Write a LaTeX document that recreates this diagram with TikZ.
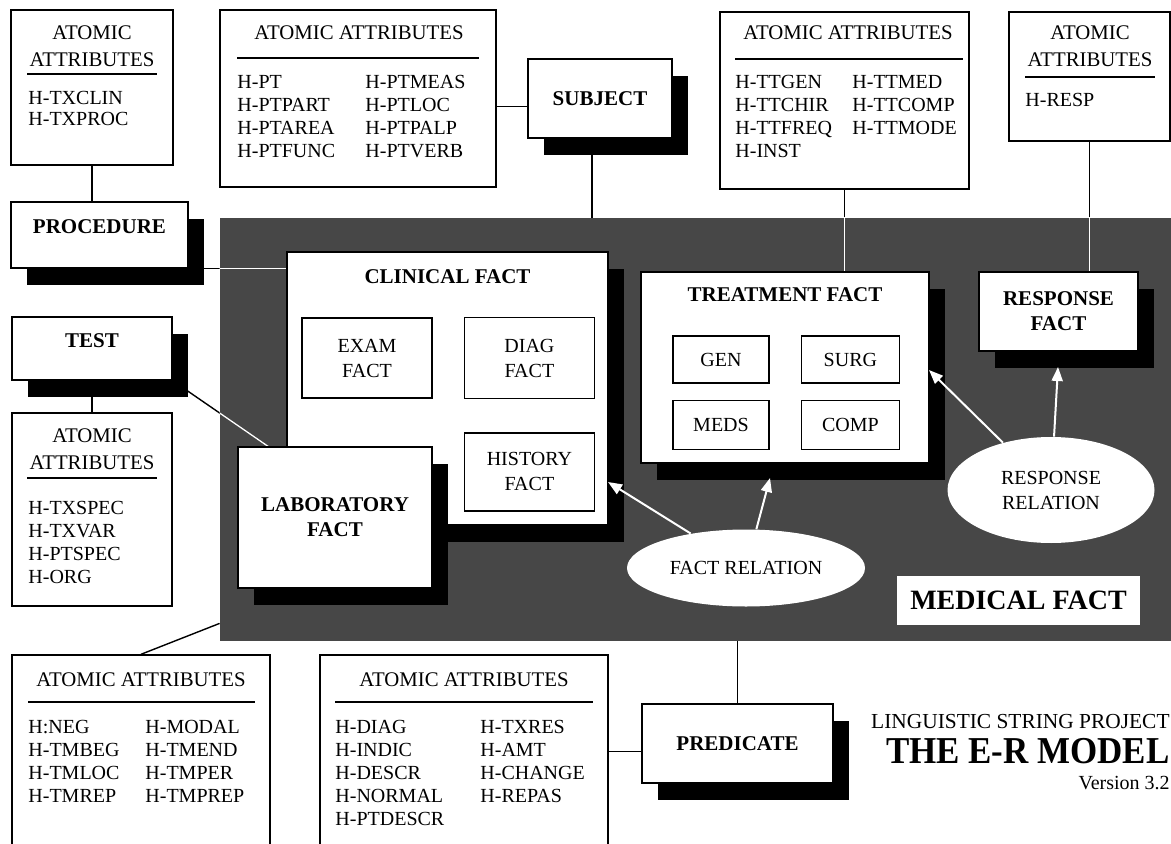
\documentclass[tikz,border=0pt]{standalone}
\usepackage{fontspec}
\setmainfont{Liberation Serif}
\usepackage{graphicx}
\usetikzlibrary{positioning, shapes.geometric, shadows, arrows.meta, calc}

\pgfdeclarelayer{bg}
\pgfdeclarelayer{links}
\pgfsetlayers{bg,links,main}

\tikzset{
  region/.style={fill=black!72, inner sep=0pt},
  attrbox/.style={draw, fill=white, line width=0.7pt, inner sep=0pt},
  attrtitle/.style={inner sep=0pt, align=center, font=\fontsize{10.4}{13.5}\selectfont},
  attrname/.style={anchor=west, inner sep=0pt, text height=6.6pt, text depth=0pt},
  entity/.style={draw, fill=white, line width=0.7pt, inner sep=0pt, align=center,
    font=\bfseries\fontsize{10.5}{12.5}\selectfont,
    drop shadow={shadow xshift=8pt, shadow yshift=-8.5pt, fill=black, opacity=1}},
  entitytitle/.style={inner sep=0pt, text height=6.9pt, text depth=0pt,
    font=\bfseries\fontsize{10.5}{12.5}\selectfont},
  subfact/.style={draw, fill=white, line width=0.7pt, inner sep=0pt, align=center},
  relation/.style={ellipse, fill=white, inner sep=0pt, align=center},
  medlabel/.style={fill=white, inner sep=0pt, font=\bfseries\fontsize{14}{16}\selectfont},
  link/.style={line width=0.7pt},
  underline/.style={line width=0.9pt},
  relarrow/.style={white, line width=1pt, -{Triangle[length=7pt, width=5.5pt]}},
}

% connectors that run into the medical fact region
\newcommand{\crosslinks}{%
  \draw[link] (proc.south east) -- (proc.south east -| clinical.west);
  \draw[link] (test.south east) -- (labhit);
  \draw[link] (treatattr.south) -- (treatattr.south |- treat.north);
  \draw[link] (respattr.south) -- (respattr.south |- resp.north);
}

\begin{document}
\begin{tikzpicture}[x=0.5pt, y=-0.5pt, font=\fontsize{10}{12.5}\selectfont]
  \useasboundingbox (0,0) rectangle (1171,844);

  % medical fact region
  \begin{pgfonlayer}{bg}
    \node[region, minimum width=480pt, minimum height=211.5pt] (medical) at (700,429.5) {};
  \end{pgfonlayer}

  % atomic attribute boxes
  \node[attrbox, minimum width=81pt, minimum height=77.5pt] (procattr) at (92,87.5) {};
  \node[attrtitle] (procattrT) at (92,46.5) {ATOMIC\\ATTRIBUTES};
  \draw[underline] (27,74) -- (157,74);
  \foreach \a [count=\i from 0] in {H-TXCLIN, H-TXPROC}
    \node[attrname] (procA\i) at (28,{98+21*\i}) {\a};

  \node[attrbox, minimum width=138pt, minimum height=88.5pt] (subjattr) at (358,98.5) {};
  \node[attrtitle] (subjattrT) at (359,33) {ATOMIC ATTRIBUTES};
  \draw[underline] (237,58) -- (479,58);
  \foreach \a [count=\i from 0] in {H-PT, H-PTPART, H-PTAREA, H-PTFUNC}
    \node[attrname] (subjA\i) at (237,{82+23*\i}) {\a};
  \foreach \a [count=\i from 0] in {H-PTMEAS, H-PTLOC, H-PTPALP, H-PTVERB}
    \node[attrname] (subjB\i) at (365,{82+23*\i}) {\a};

  \node[attrbox, minimum width=124.5pt, minimum height=88.5pt] (treatattr) at (844.5,100.5) {};
  \node[attrtitle] (treatattrT) at (848,33) {ATOMIC ATTRIBUTES};
  \draw[underline] (735,59) -- (963,59);
  \foreach \a [count=\i from 0] in {H-TTGEN, H-TTCHIR, H-TTFREQ, H-INST}
    \node[attrname] (treatA\i) at (735,{82+23*\i}) {\a};
  \foreach \a [count=\i from 0] in {H-TTMED, H-TTCOMP, H-TTMODE}
    \node[attrname] (treatB\i) at (852,{82+23*\i}) {\a};

  \node[attrbox, minimum width=80.5pt, minimum height=64.5pt] (respattr) at (1089.5,76.5) {};
  \node[attrtitle] (respattrT) at (1090,46.5) {ATOMIC\\ATTRIBUTES};
  \draw[underline] (1025,77) -- (1155,77);
  \node[attrname] (respA0) at (1025,100) {H-RESP};

  \node[attrbox, minimum width=80pt, minimum height=96.5pt] (testattr) at (92,509.5) {};
  \node[attrtitle] (testattrT) at (92,449.5) {ATOMIC\\ATTRIBUTES};
  \draw[underline] (27,478) -- (157,478);
  \foreach \a [count=\i from 0] in {H-TXSPEC, H-TXVAR, H-PTSPEC, H-ORG}
    \node[attrname] (testA\i) at (28,{508+23*\i}) {\a};

  \node[attrbox, minimum width=129pt, minimum height=107.5pt] (timeattr) at (141,762.5) {};
  \node[attrtitle] (timeattrT) at (141,680) {ATOMIC ATTRIBUTES};
  \draw[underline] (28,702) -- (255,702);
  \foreach \a [count=\i from 0] in {H:NEG, H-TMBEG, H-TMLOC, H-TMREP}
    \node[attrname] (timeA\i) at (28,{727+23*\i}) {\a};
  \foreach \a [count=\i from 0] in {H-MODAL, H-TMEND, H-TMPER, H-TMPREP}
    \node[attrname] (timeB\i) at (145,{727+23*\i}) {\a};

  \node[attrbox, minimum width=144pt, minimum height=107.5pt] (predattr) at (464,762.5) {};
  \node[attrtitle] (predattrT) at (464,680) {ATOMIC ATTRIBUTES};
  \draw[underline] (335,702) -- (593,702);
  \foreach \a [count=\i from 0] in {H-DIAG, H-INDIC, H-DESCR, H-NORMAL, H-PTDESCR}
    \node[attrname] (predA\i) at (335,{727+23*\i}) {\a};
  \foreach \a [count=\i from 0] in {H-TXRES, H-AMT, H-CHANGE, H-REPAS}
    \node[attrname] (predB\i) at (480,{727+23*\i}) {\a};

  % entities
  \node[entity, minimum width=88.5pt, minimum height=33pt] (proc) at (99.5,235) {};
  \node[entitytitle, below=9pt of proc.north] (procT) {PROCEDURE};
  \node[entity, minimum width=72pt, minimum height=39.5pt] (subj) at (600,98.5) {SUBJECT};
  \node[entity, minimum width=80pt, minimum height=31.5pt] (test) at (92,348.5) {};
  \node[entitytitle, below=8.5pt of test.north] (testT) {TEST};
  \node[entity, minimum width=95.5pt, minimum height=39.5pt] (pred) at (737.5,743.5) {PREDICATE};

  \node[entity, minimum width=160.5pt, minimum height=136.5pt] (clinical) at (447.5,388.5) {};
  \node[entitytitle, below=9pt of clinical.north] (clinicalT) {CLINICAL FACT};
  \node[subfact, minimum width=65pt, minimum height=40pt] (exam) at (367,358) {EXAM\\FACT};
  \node[subfact, minimum width=65pt, minimum height=40.5pt, right=15.5pt of exam] (diag) {DIAG\\FACT};
  \node[subfact, minimum width=65pt, minimum height=39pt, below=16.5pt of diag] (hist) {HISTORY\\FACT};
  \node[entity, minimum width=97pt, minimum height=70.5pt] (lab) at (335,517.5) {LABORATORY\\FACT};

  \node[entity, minimum width=144pt, minimum height=95.5pt] (treat) at (785,367.5) {};
  \node[entitytitle, below=8pt of treat.north] (treatT) {TREATMENT FACT};
  \node[subfact, minimum width=48pt, minimum height=23.5pt] (gen) at (721,359.5) {GEN};
  \node[subfact, minimum width=49pt, minimum height=23.5pt, right=15.5pt of gen] (surg) {SURG};
  \node[subfact, minimum width=48pt, minimum height=24.5pt, below=8pt of gen] (meds) {MEDS};
  \node[subfact, minimum width=49pt, minimum height=24.5pt, below=8pt of surg] (comp) {COMP};

  \node[entity, minimum width=79.5pt, minimum height=39.5pt] (resp) at (1058.5,311.5) {RESPONSE\\FACT};

  \node[relation, minimum width=119pt, minimum height=38.5pt] (factrel) at (746,568) {FACT RELATION};
  \node[relation, minimum width=103.5pt, minimum height=53pt] (resprel) at (1051,490) {RESPONSE\\RELATION};
  \node[medlabel, minimum width=121.5pt, minimum height=24.5pt] (medlabel) at (1018.5,600.5) {MEDICAL FACT};

  % arrow ends
  \coordinate (labhit) at (269,447);
  \coordinate (clinhit) at (608,482);
  \coordinate (treathit) at (770,478);
  \coordinate (treatside) at (929,370);
  \coordinate (resphit) at (1058,367);

  % connectors
  \begin{pgfonlayer}{links}
    \draw[link] (procattr.south) -- (procattr.south |- proc.north);
    \draw[link] ([yshift=-4pt]subj.west) -- ([yshift=-4pt]subj.west -| subjattr.east);
    \draw[link] ([xshift=-4pt]subj.south) -- ([xshift=-4pt]subj.south |- medical.north);
    \draw[link] (test.south) -- (testattr.north);
    \draw[link] (timeattr.north) -- ($(medical.south west)+(0,-18)$);
    \draw[link] (pred.north) -- (pred.north |- medical.south);
    \draw[link] ([yshift=-4pt]pred.west) -- ([yshift=-4pt]pred.west -| predattr.east);
    \crosslinks
    \begin{scope}
      \clip (medical.south west) rectangle (medical.north east);
      \begin{scope}[white]
        \crosslinks
      \end{scope}
    \end{scope}
  \end{pgfonlayer}

  % relations
  \draw[relarrow] (factrel) -- (clinhit);
  \draw[relarrow] (factrel) -- (treathit);
  \draw[relarrow] (resprel) -- (treatside);
  \draw[relarrow] (resprel) -- (resphit);

  % title block
  \node[anchor=east, inner sep=0pt, text height=7pt, text depth=0pt,
    font=\fontsize{10.7}{12}\selectfont] (project) at (1170,721) {LINGUISTIC STRING PROJECT};
  \node[anchor=east, inner sep=0pt, text height=12.5pt, text depth=0pt,
    font=\bfseries\fontsize{19}{23}\selectfont] (model) at (1170,751) {\scalebox{0.92}[1]{THE E-R MODEL}};
  \node[anchor=east, inner sep=0pt, text height=6.6pt, text depth=0pt] (version) at (1170,783) {Version 3.2};
\end{tikzpicture}
\end{document}
